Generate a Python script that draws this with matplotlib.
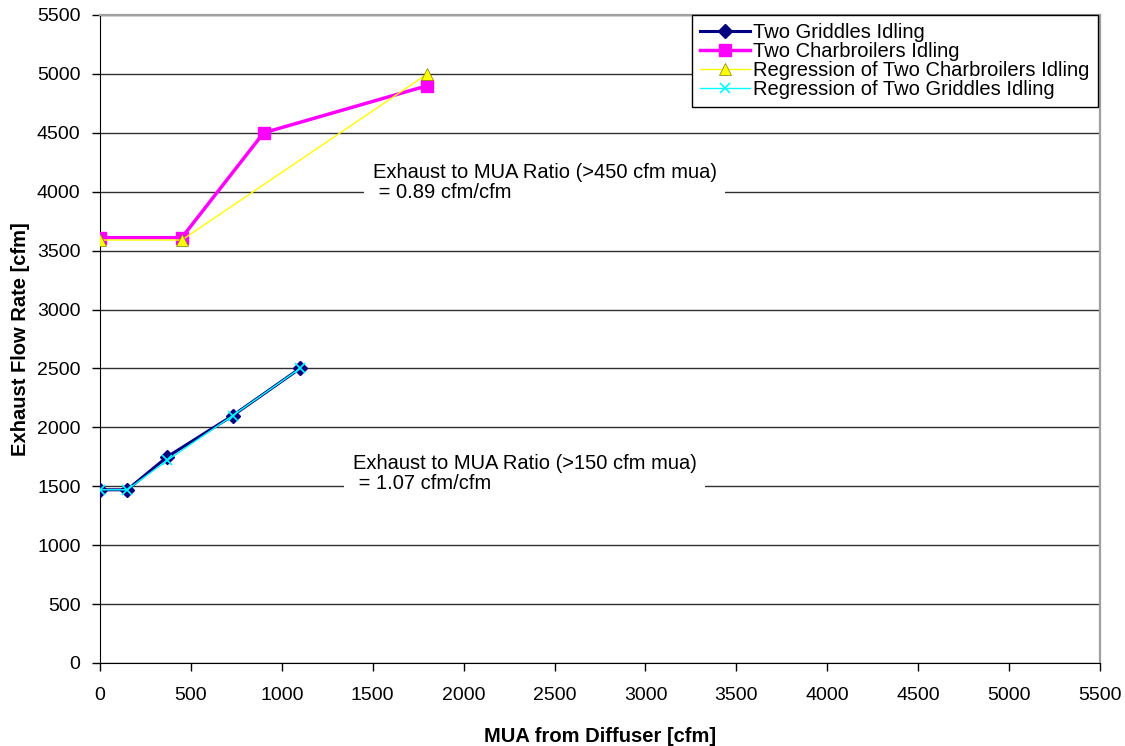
import matplotlib.pyplot as plt

plt.rcParams["font.family"] = ["Liberation Sans", "DejaVu Sans"]

# ---- data ----
griddle_x = [0, 150, 370, 730, 1100]
griddle_y = [1470, 1470, 1750, 2100, 2500]

griddle_reg_x = [0, 150, 370, 730, 1100]
griddle_reg_y = [1470, 1470, 1720, 2100, 2500]

char_x = [0, 450, 900, 1800]
char_y = [3610, 3610, 4500, 4900]

char_reg_x = [0, 450, 1800]
char_reg_y = [3590, 3590, 5000]

ticks = list(range(0, 5501, 500))

fig = plt.figure(figsize=(11.25, 7.46), dpi=100)
ax = fig.add_axes([0.0889, 0.1113, 0.8889, 0.8686])

ax.plot(griddle_x, griddle_y, color="#000080", lw=2.2, marker="D", ms=7,
        label="Two Griddles Idling", zorder=4)
ax.plot(char_x, char_y, color="#FF00FF", lw=2.5, marker="s", ms=9,
        label="Two Charbroilers Idling", zorder=4)
ax.plot(char_reg_x, char_reg_y, color="#FFFF00", lw=1.0, marker="^", ms=8,
        mec="#808000", mew=0.5, label="Regression of Two Charbroilers Idling", zorder=5)
ax.plot(griddle_reg_x, griddle_reg_y, color="#00FFFF", lw=1.0, marker="x", ms=7,
        mew=1.2, label="Regression of Two Griddles Idling", zorder=5)

ax.set_xlim(0, 5500)
ax.set_ylim(0, 5500)
ax.set_xticks(ticks)
ax.set_yticks(ticks)
ax.tick_params(labelsize=14, direction="out", length=6, width=1)
ax.tick_params(axis="x", pad=11)
ax.tick_params(axis="y", pad=8)
ax.yaxis.grid(True, color="#303030", lw=1)
ax.set_axisbelow(True)
for side in ["top", "right"]:
    ax.spines[side].set_color("#a0a0a0")
    ax.spines[side].set_linewidth(1.6)

ax.set_xlabel("MUA from Diffuser [cfm]", fontsize=14.5, fontweight="bold", labelpad=17)
ax.set_ylabel("Exhaust Flow Rate [cfm]", fontsize=14.5, fontweight="bold", labelpad=5)

box = dict(facecolor="white", edgecolor="none", pad=6)
ax.text(1500, 4080, "Exhaust to MUA Ratio (>450 cfm mua)\n = 0.89 cfm/cfm",
        fontsize=14.5, va="center", ha="left", bbox=box, linespacing=1.05, zorder=3)
ax.text(1390, 1610, "Exhaust to MUA Ratio (>150 cfm mua)\n = 1.07 cfm/cfm",
        fontsize=14.5, va="center", ha="left", bbox=box, linespacing=1.05, zorder=3)

leg = ax.legend(loc="upper right", bbox_to_anchor=(0.9975, 1.0), fontsize=14.5,
                frameon=True, fancybox=False, edgecolor="black", framealpha=1,
                handlelength=2.5, handletextpad=0.15, borderpad=0.4,
                labelspacing=0.0, borderaxespad=0)
leg.get_frame().set_linewidth(1)

fig.savefig("out.png", dpi=100)
